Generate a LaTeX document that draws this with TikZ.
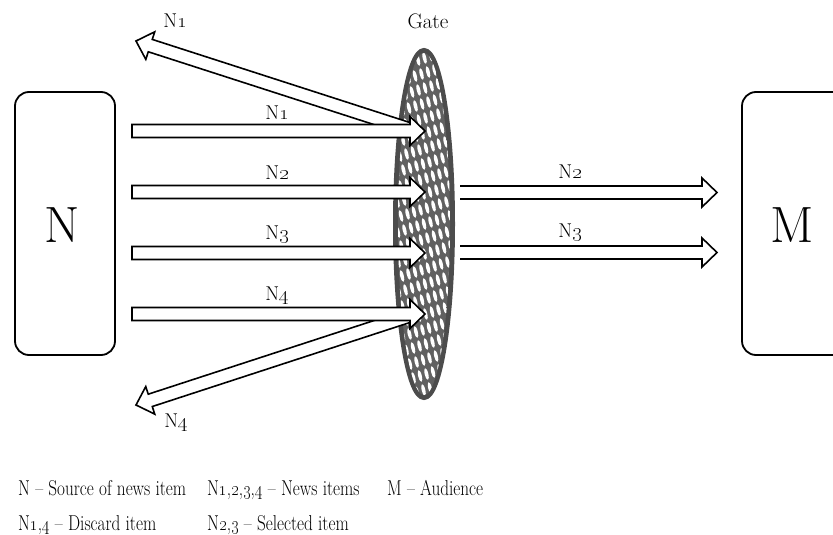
\documentclass[tikz,border=0pt]{standalone}
\usepackage{graphicx}
\usetikzlibrary{calc,shapes.geometric}
\newcommand\osn[1]{\oldstylenums{#1}}
\newcommand\legtxt[1]{\scalebox{0.8}[1]{#1}}
\def\faHL{15pt}
\def\faSW{6.5pt}
\def\faHW{14.5pt}
% #1 start, #2 tip, #3 closing (-- cycle) or empty
\newcommand\fatarrow[3]{%
  \coordinate (fa-s) at (#1); \coordinate (fa-e) at (#2);
  \coordinate (fa-b) at ($(fa-e)!\faHL!(fa-s)$);
  \coordinate (fa-1) at ($(fa-s)!\faSW!90:(fa-e)$);
  \coordinate (fa-2) at ($(fa-b)!\faSW!-90:(fa-s)$);
  \coordinate (fa-3) at ($(fa-b)!\faHW!-90:(fa-s)$);
  \coordinate (fa-4) at ($(fa-b)!\faHW!90:(fa-s)$);
  \coordinate (fa-5) at ($(fa-b)!\faSW!90:(fa-s)$);
  \coordinate (fa-6) at ($(fa-s)!\faSW!-90:(fa-e)$);
  \fill[white] (fa-1) -- (fa-2) -- (fa-3) -- (fa-e) -- (fa-4) -- (fa-5) -- (fa-6) -- cycle;
  \draw[fatarr] (fa-1) -- (fa-2) -- (fa-3) -- (fa-e) -- (fa-4) -- (fa-5) -- (fa-6) #3;}
\begin{document}
\begin{tikzpicture}[x=1pt,y=-1pt,
  box/.style={draw, line width=1.8pt, rounded corners=14pt, minimum height=263pt, inner sep=0pt},
  big/.style={font=\fontsize{51}{60}\selectfont},
  fatarr/.style={line width=1.6pt, line join=miter},
  lab/.style={font=\fontsize{20}{23}\selectfont, inner sep=0pt},
  leg/.style={anchor=base west, inner sep=0pt, font=\fontsize{21.5}{25}\selectfont},
  gatebd/.style={draw=black!70, line width=6pt, ellipse, minimum width=56pt, minimum height=346pt, inner sep=0pt}]
\useasboundingbox (0,0) rectangle (833,535);
\begin{scope}
\clip (0,0) rectangle (833,535);
% boxes
\node[box, minimum width=100pt] (N) at (65,223.5) {};
\node[big, inner sep=0pt] (Nt) at (62,225) {N};
\node[box, minimum width=110pt] (M) at (797,223.5) {};
\node[big, inner sep=0pt] (Mt) at (792,225) {M};
% gate
\node[gatebd] (gate) at (424,224) {};
\begin{scope}
  \clip (gate.center) ellipse [x radius=26pt, y radius=171pt];
  \fill[black!62] (gate.center) ellipse [x radius=27pt, y radius=172pt];
  \foreach \i in {-14,...,14}{
    \foreach \j in {-14,...,14}{
      \coordinate (cc) at ($(gate.center)+(6.5*\i+3.5*\j,-2*\i+14*\j)$);
      \fill[white, rotate around={14:(cc)}] (cc) ellipse [x radius=1.8pt, y radius=6pt];
    }}
\end{scope}
\node[lab, font=\fontsize{21}{24}\selectfont] (gl) at (428,21) {Gate};
% coordinates
\coordinate (a1s) at (132,131); \coordinate (a1e) at (425,131);
\coordinate (a2s) at (132,192); \coordinate (a2e) at (425,192);
\coordinate (a3s) at (132,253); \coordinate (a3e) at (425,253);
\coordinate (a4s) at (132,314); \coordinate (a4e) at (425,314);
\coordinate (b2s) at (460,192.5); \coordinate (b2e) at (717,192.5);
\coordinate (b3s) at (460,252.5); \coordinate (b3e) at (717,252.5);
\coordinate (d1s) at (415,131); \coordinate (d1e) at (136,41);
\coordinate (d4s) at (415,314); \coordinate (d4e) at (136,405);
% discard arrows
\fatarrow{d1s}{d1e}{}
\fatarrow{d4s}{d4e}{}
% news item arrows
\fatarrow{a1s}{a1e}{-- cycle}
\fatarrow{a2s}{a2e}{-- cycle}
\fatarrow{a3s}{a3e}{-- cycle}
\fatarrow{a4s}{a4e}{-- cycle}
% selected arrows
\fatarrow{b2s}{b2e}{}
\fatarrow{b3s}{b3e}{}
% labels
\node[lab] (t1) at (277,113) {N\osn{1}};
\node[lab] (t2) at (277,173) {N\osn{2}};
\node[lab] (t3) at (277,235) {N\osn{3}};
\node[lab] (t4) at (277,296) {N\osn{4}};
\node[lab] (s2) at (570,172) {N\osn{2}};
\node[lab] (s3) at (570,233) {N\osn{3}};
\node[lab] (x1) at (175,21) {N\osn{1}};
\node[lab] (x4) at (176,423) {N\osn{4}};
% legend
\node[leg] (g1) at (18,495) {\legtxt{N -- Source of news item}};
\node[leg] (g2) at (207,495) {\legtxt{N\osn{1},\osn{2},\osn{3},\osn{4} -- News items}};
\node[leg] (g3) at (387,495) {\legtxt{M -- Audience}};
\node[leg] (g4) at (18,530) {\legtxt{N\osn{1},\osn{4} -- Discard item}};
\node[leg] (g5) at (207,530) {\legtxt{N\osn{2},\osn{3} -- Selected item}};
\end{scope}
\end{tikzpicture}
\end{document}
